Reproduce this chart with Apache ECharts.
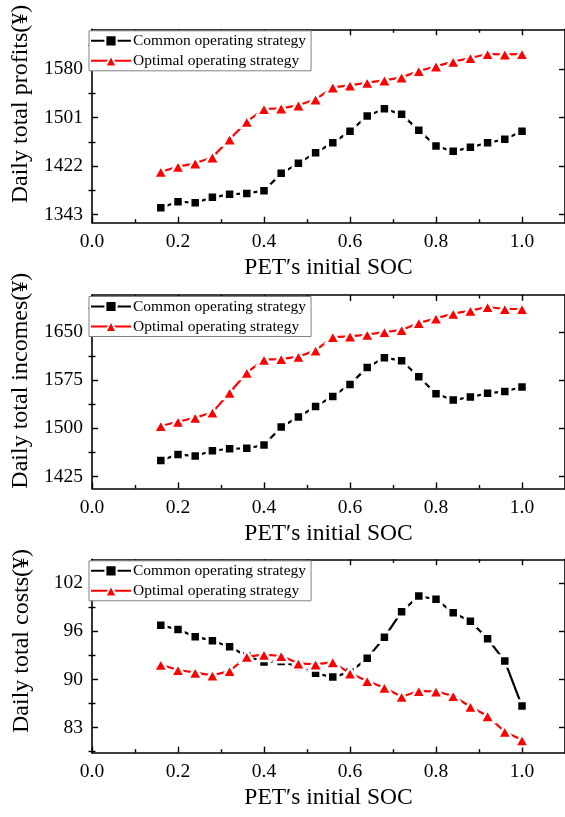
<!DOCTYPE html>
<html>
<head>
<meta charset="utf-8">
<script src="https://cdn.jsdelivr.net/npm/echarts@6/dist/echarts.min.js"></script>
<style>
  html, body { margin: 0; padding: 0; background: #fff; }
  #chart { width: 565px; height: 817px; }
</style>
</head>
<body>
<div id="chart"></div>
<script>
// PET initial state of charge (x axis, shared by all three panels)
const socValues = [0.16, 0.20, 0.24, 0.28, 0.32, 0.36, 0.40, 0.44, 0.48, 0.52, 0.56,
                   0.60, 0.64, 0.68, 0.72, 0.76, 0.80, 0.84, 0.88, 0.92, 0.96, 1.00];

// Daily total profits (¥)
const profitCommon  = [1353.9, 1363.7, 1362.0, 1370.8, 1375.7, 1377.3, 1381.7, 1410.0, 1426.4, 1443.8, 1460.1,
                       1478.7, 1503.7, 1515.7, 1506.4, 1480.3, 1454.7, 1446.0, 1452.5, 1460.1, 1465.6, 1478.7];
const profitOptimal = [1412.7, 1420.9, 1426.4, 1436.2, 1465.6, 1494.5, 1515.2, 1516.3, 1521.2, 1531.0, 1550.6,
                       1553.8, 1558.2, 1562.0, 1566.9, 1577.3, 1584.9, 1592.5, 1598.5, 1605.0, 1604.5, 1605.0];

// Daily total incomes (¥)
const incomeCommon  = [1449.9, 1459.3, 1456.7, 1465.0, 1468.1, 1468.7, 1473.9, 1501.9, 1517.5, 1534.1, 1549.7,
                       1568.4, 1594.9, 1610.0, 1605.3, 1580.4, 1553.9, 1544.0, 1548.7, 1554.4, 1557.5, 1564.3];
const incomeOptimal = [1503.5, 1510.2, 1516.5, 1524.8, 1555.4, 1586.6, 1606.9, 1607.9, 1611.6, 1621.4, 1642.2,
                       1643.3, 1645.9, 1650.0, 1653.1, 1664.1, 1671.3, 1678.6, 1683.3, 1689.0, 1685.9, 1685.9];

// Daily total costs (¥)
const costCommon  = [96.79, 96.26, 95.30, 94.77, 93.98, 92.74, 91.95, 92.04, 91.34, 90.46, 89.97,
                     90.63, 92.44, 95.21, 98.60, 100.66, 100.22, 98.46, 97.32, 95.03, 92.08, 86.15];
const costOptimal = [91.60, 90.90, 90.55, 90.19, 90.77, 92.66, 92.92, 92.75, 91.78, 91.65, 91.95,
                     90.46, 89.45, 88.57, 87.38, 88.13, 88.08, 87.47, 86.06, 84.83, 82.76, 81.66];

// Tick values
const socTicks    = [0.0, 0.2, 0.4, 0.6, 0.8, 1.0];
const socMinor    = [0.1, 0.3, 0.5, 0.7, 0.9];
const profitTicks = [1343, 1422, 1501, 1580];
const incomeTicks = [1425, 1500, 1575, 1650];
const costTicks   = [83.333, 89.667, 96.0, 102.333];

const seriesNames = ['Common operating strategy', 'Optimal operating strategy'];
const xTitle = 'PET\u2032s initial SOC';

const FONT = '"Liberation Serif", "Times New Roman", serif';
const BLACK = '#000000';
const RED = '#ff0000';

const GRID_LEFT = 92;
const GRID_WIDTH = 474.5;
const GRID_HEIGHT = 193.4;

function midpoints(ticks, lo, hi) {
  const step = ticks[1] - ticks[0];
  const out = [];
  for (let k = -1; k < ticks.length; k++) {
    const v = ticks[0] + step * (k + 0.5);
    if (v > lo + 0.01 * step && v < hi - 0.01 * step) out.push(v);
  }
  return out;
}

const option = {
  animation: false,
  backgroundColor: '#ffffff',
  grid: [], xAxis: [], yAxis: [], legend: [], series: []
};

function addPanel(p) {
  const gi = option.grid.length;
  option.grid.push({ left: GRID_LEFT, width: GRID_WIDTH, top: p.top, height: GRID_HEIGHT });

  const lineStyle = { color: BLACK, width: 1.6 };
  const tickStyle = { color: BLACK, width: 1.4 };

  // x axes: bottom (labelled), bottom minor, top mirror, top minor
  const xBase = { gridIndex: gi, type: 'value', min: 0, max: 1.1, splitLine: { show: false } };
  const xi = option.xAxis.length;
  option.xAxis.push(Object.assign({}, xBase, {
    position: 'bottom',
    axisLine: { show: true, onZero: false, lineStyle },
    axisTick: { show: true, inside: true, length: 6, customValues: socTicks, lineStyle: tickStyle },
    axisLabel: { customValues: socTicks, formatter: v => v.toFixed(1), fontFamily: FONT, fontSize: 19.5, color: BLACK, margin: 9 },
    name: xTitle, nameLocation: 'middle', nameGap: 33,
    nameTextStyle: { fontFamily: FONT, fontSize: 23.5, color: BLACK }
  }));
  option.xAxis.push(Object.assign({}, xBase, {
    position: 'bottom',
    axisLine: { show: false },
    axisTick: { show: true, inside: true, length: 3.5, customValues: socMinor, lineStyle: tickStyle },
    axisLabel: { show: false }
  }));
  option.xAxis.push(Object.assign({}, xBase, {
    position: 'top',
    axisLine: { show: true, onZero: false, lineStyle },
    axisTick: { show: true, inside: true, length: 6, customValues: socTicks, lineStyle: tickStyle },
    axisLabel: { show: false }
  }));
  option.xAxis.push(Object.assign({}, xBase, {
    position: 'top',
    axisLine: { show: false },
    axisTick: { show: true, inside: true, length: 3.5, customValues: socMinor, lineStyle: tickStyle },
    axisLabel: { show: false }
  }));

  // y axes: left (labelled), left minor, right mirror, right minor
  const minor = midpoints(p.ticks, p.min, p.max);
  const yBase = { gridIndex: gi, type: 'value', min: p.min, max: p.max, splitLine: { show: false } };
  const yi = option.yAxis.length;
  option.yAxis.push(Object.assign({}, yBase, {
    position: 'left',
    axisLine: { show: true, onZero: false, lineStyle },
    axisTick: { show: true, inside: true, length: 6, customValues: p.ticks, lineStyle: tickStyle },
    axisLabel: { customValues: p.ticks, formatter: v => String(Math.round(v)), fontFamily: FONT, fontSize: 19.5, color: BLACK, margin: 9 },
    name: p.title, nameLocation: 'middle', nameGap: 58,
    nameTextStyle: { fontFamily: FONT, fontSize: 24, color: BLACK, padding: [0, 0, 0, p.shift * 2] }
  }));
  option.yAxis.push(Object.assign({}, yBase, {
    position: 'left',
    axisLine: { show: false },
    axisTick: { show: true, inside: true, length: 3.5, customValues: minor, lineStyle: tickStyle },
    axisLabel: { show: false }
  }));
  option.yAxis.push(Object.assign({}, yBase, {
    position: 'right',
    axisLine: { show: true, onZero: false, lineStyle },
    axisTick: { show: true, inside: true, length: 6, customValues: p.ticks, lineStyle: tickStyle },
    axisLabel: { show: false }
  }));
  option.yAxis.push(Object.assign({}, yBase, {
    position: 'right',
    axisLine: { show: false },
    axisTick: { show: true, inside: true, length: 3.5, customValues: minor, lineStyle: tickStyle },
    axisLabel: { show: false }
  }));

  option.legend.push({
    left: GRID_LEFT - 3, top: p.top + 1.5,
    orient: 'vertical',
    data: seriesNames,
    itemWidth: 40, itemHeight: 14, itemGap: 4,
    padding: [2, 5, 2, 1],
    borderColor: '#808080', borderWidth: 1,
    backgroundColor: '#ffffff',
    selectedMode: false,
    textStyle: { fontFamily: FONT, fontSize: 15.5, color: BLACK, padding: [0, 0, 0, -3] }
  });

  option.series.push({
    type: 'line', name: seriesNames[0],
    xAxisIndex: xi, yAxisIndex: yi,
    data: socValues.map((x, k) => [x, p.common[k]]),
    symbol: 'rect', symbolSize: 10.5,
    lineStyle: { color: BLACK, width: 2.2 },
    itemStyle: { color: BLACK, borderColor: '#ffffff', borderWidth: 3 },
    z: 3
  });
  option.series.push({
    type: 'line', name: seriesNames[1],
    xAxisIndex: xi, yAxisIndex: yi,
    data: socValues.map((x, k) => [x, p.optimal[k]]),
    symbol: 'triangle', symbolSize: [14, 12.5],
    lineStyle: { color: RED, width: 2.2 },
    itemStyle: { color: RED, borderColor: '#ffffff', borderWidth: 2.5 },
    z: 4
  });
}

addPanel({ top: 29.3, min: 1329.4, max: 1645.4, ticks: profitTicks,
           title: 'Daily total profits(\u00a5)', shift: 22,
           common: profitCommon, optimal: profitOptimal });
addPanel({ top: 295.0, min: 1406.3, max: 1707.7, ticks: incomeTicks,
           title: 'Daily total incomes(\u00a5)', shift: 11,
           common: incomeCommon, optimal: incomeOptimal });
addPanel({ top: 559.3, min: 80.0, max: 105.5, ticks: costTicks,
           title: 'Daily total costs(\u00a5)', shift: 15,
           common: costCommon, optimal: costOptimal });

const chart = echarts.init(document.getElementById('chart'), null, { renderer: 'canvas' });
chart.setOption(option);
</script>
</body>
</html>
